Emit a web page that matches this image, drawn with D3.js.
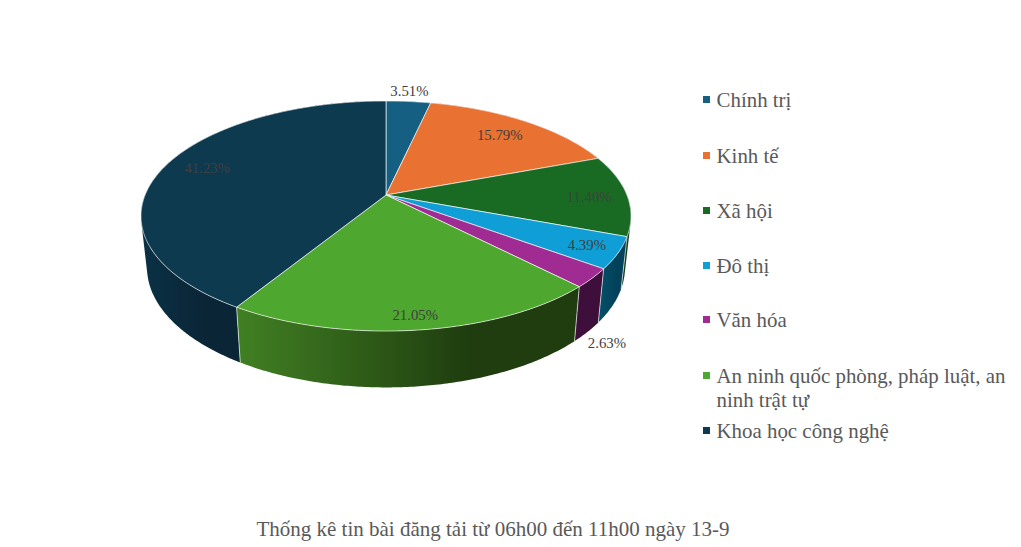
<!DOCTYPE html>
<html><head><meta charset="utf-8">
<script src="https://cdn.jsdelivr.net/npm/d3@7"></script>
<style>html,body{margin:0;padding:0;background:#fff}svg{display:block}text{font-family:"Liberation Serif","Times New Roman",serif}</style>
</head><body><svg id="c" width="1021" height="547"></svg>
<script>
const categories = ["Chính trị","Kinh tế","Xã hội","Đô thị","Văn hóa","An ninh quốc phòng, pháp luật, an ninh trật tự","Khoa học công nghệ"];
const values = [4,18,13,5,3,24,47];
const labels = ["3.51%","15.79%","11.40%","4.39%","2.63%","21.05%","41.23%"];
const colors = ["#156082","#E97132","#196B24","#0F9ED5","#A02B93","#4EA72E","#0D3A4E"];
const wallLeft = ["#0c3a4e","#8c441e","#0f4016","#045068","#3e0f3a","#418023","#0b3145"];
const wallRight = ["#0c3a4e","#8c441e","#0f4016","#03405a","#3e0f3a","#1f3d0f","#0a2536"];
const legendText = [["Chính trị"],["Kinh tế"],["Xã hội"],["Đô thị"],["Văn hóa"],["An ninh quốc phòng, pháp luật, an","ninh trật tự"],["Khoa học công nghệ"]];
const legendY = [100,156,211,266,320,376,431];
const labelRadius = [1.135,0.794,0.843,0.872,1.11,0.907,0.79];
const labelNudge = [[-1.5,0],[0.5,0],[0,2],[1,0],[-6,0],[0.5,0],[-2.5,-4]];
const title = "Thống kê tin bài đăng tải từ 06h00 đến 11h00 ngày 13-9";

const svg = d3.select("#c");
const defs = svg.append("defs");
const persp = 0.1826;
const top3d = {x:d3.scaleLinear().domain([-1,1]).range([386-240.9,386+240.9]),
               y:d3.scaleLinear().domain([-1,1]).range([195+111.2,195-111.2])};
const base3d = {x:d3.scaleLinear().domain([-1,1]).range([386-235,386+235]),
               y:d3.scaleLinear().domain([-1,1]).range([245.5+116,245.5-116])};
function project(disc,a,r){
  const w = 1+persp*r*Math.cos(a);
  return [disc.x(r*Math.sin(a)/w), disc.y(r*Math.cos(a)/w)];
}
function angles(a0,a1){
  const n = Math.max(2,Math.ceil((a1-a0)/0.01));
  return d3.range(n+1).map(i=>a0+(a1-a0)*i/n);
}
const arcPts = (disc,a0,a1)=>angles(a0,a1).map(a=>project(disc,a,1));
const line = d3.line();
const arcs = d3.pie().sort(null).value(d=>d)(values).map((d,i)=>({...d,i,mid:(d.startAngle+d.endAngle)/2}));

// wall = union of ruled quads between the top rim and the base rim
function wallPath(d){
  const up = arcPts(top3d,d.startAngle,d.endAngle), lo = arcPts(base3d,d.startAngle,d.endAngle);
  let s = "";
  for(let i=0;i<up.length-1;i++){
    const q = [up[i],up[i+1],lo[i+1],lo[i]];
    if(d3.polygonArea(q)<0) q.reverse();
    s += line(q)+"Z";
  }
  return s;
}
arcs.forEach(d=>{
  let as = angles(d.startAngle,d.endAngle).filter(a=>Math.cos(a)<0.2);
  if(as.length<2) as = angles(d.startAngle,d.endAngle);
  const xs = as.flatMap(a=>[project(top3d,a,1)[0],project(base3d,a,1)[0]]);
  const g = defs.append("linearGradient").attr("id","w"+d.i).attr("gradientUnits","userSpaceOnUse")
    .attr("x1",d3.min(xs)).attr("x2",d3.max(xs)).attr("y1",0).attr("y2",0);
  g.append("stop").attr("offset",0).attr("stop-color",wallLeft[d.i]);
  g.append("stop").attr("offset",0.68).attr("stop-color",wallRight[d.i]);
  g.append("stop").attr("offset",1).attr("stop-color",wallRight[d.i]);
});
const wg = svg.append("g");
wg.selectAll("path.wall").data(arcs.slice().sort((a,b)=>Math.cos(b.mid)-Math.cos(a.mid))).join("path")
  .attr("class","wall").attr("d",wallPath).attr("fill",d=>`url(#w${d.i})`);
// dividers between walls
wg.selectAll("path.div").data(arcs).join("path").attr("class","div")
  .attr("d",d=>line([project(top3d,d.startAngle,1),project(base3d,d.startAngle,1)]))
  .attr("fill","none").attr("stroke","#fff").attr("stroke-width",0.75).attr("stroke-opacity",0.85);

// top face
const apex = project(top3d,0,0);
svg.append("g").selectAll("path").data(arcs).join("path")
  .attr("d",d=>line([apex].concat(arcPts(top3d,d.startAngle,d.endAngle)))+"Z")
  .attr("fill",d=>colors[d.i]).attr("stroke","#fff").attr("stroke-width",0.75).attr("stroke-opacity",0.85);

// data labels
svg.append("g").selectAll("text").data(arcs).join("text")
  .attr("x",d=>project(d.i===4?base3d:top3d,d.mid,labelRadius[d.i])[0]+labelNudge[d.i][0])
  .attr("y",d=>project(d.i===4?base3d:top3d,d.mid,labelRadius[d.i])[1]+labelNudge[d.i][1])
  .attr("dy","0.33em").attr("text-anchor","middle").attr("font-size",14.8).attr("fill","#404040")
  .text(d=>labels[d.i]);

// legend
const lg = svg.append("g").selectAll("g").data(categories).join("g");
lg.append("rect").attr("x",703).attr("y",(d,i)=>legendY[i]-4).attr("width",7).attr("height",7).attr("fill",(d,i)=>colors[i]);
lg.append("text").attr("x",716.5).attr("y",(d,i)=>legendY[i]+7).attr("font-size",20.9).attr("fill","#595959")
  .selectAll("tspan").data((d,i)=>legendText[i]).join("tspan").attr("x",716.5).attr("dy",(d,j)=>j?24:0).text(d=>d);

svg.append("text").attr("x",493).attr("y",536).attr("text-anchor","middle").attr("font-size",21).attr("fill","#595959").text(title);
</script></body></html>
